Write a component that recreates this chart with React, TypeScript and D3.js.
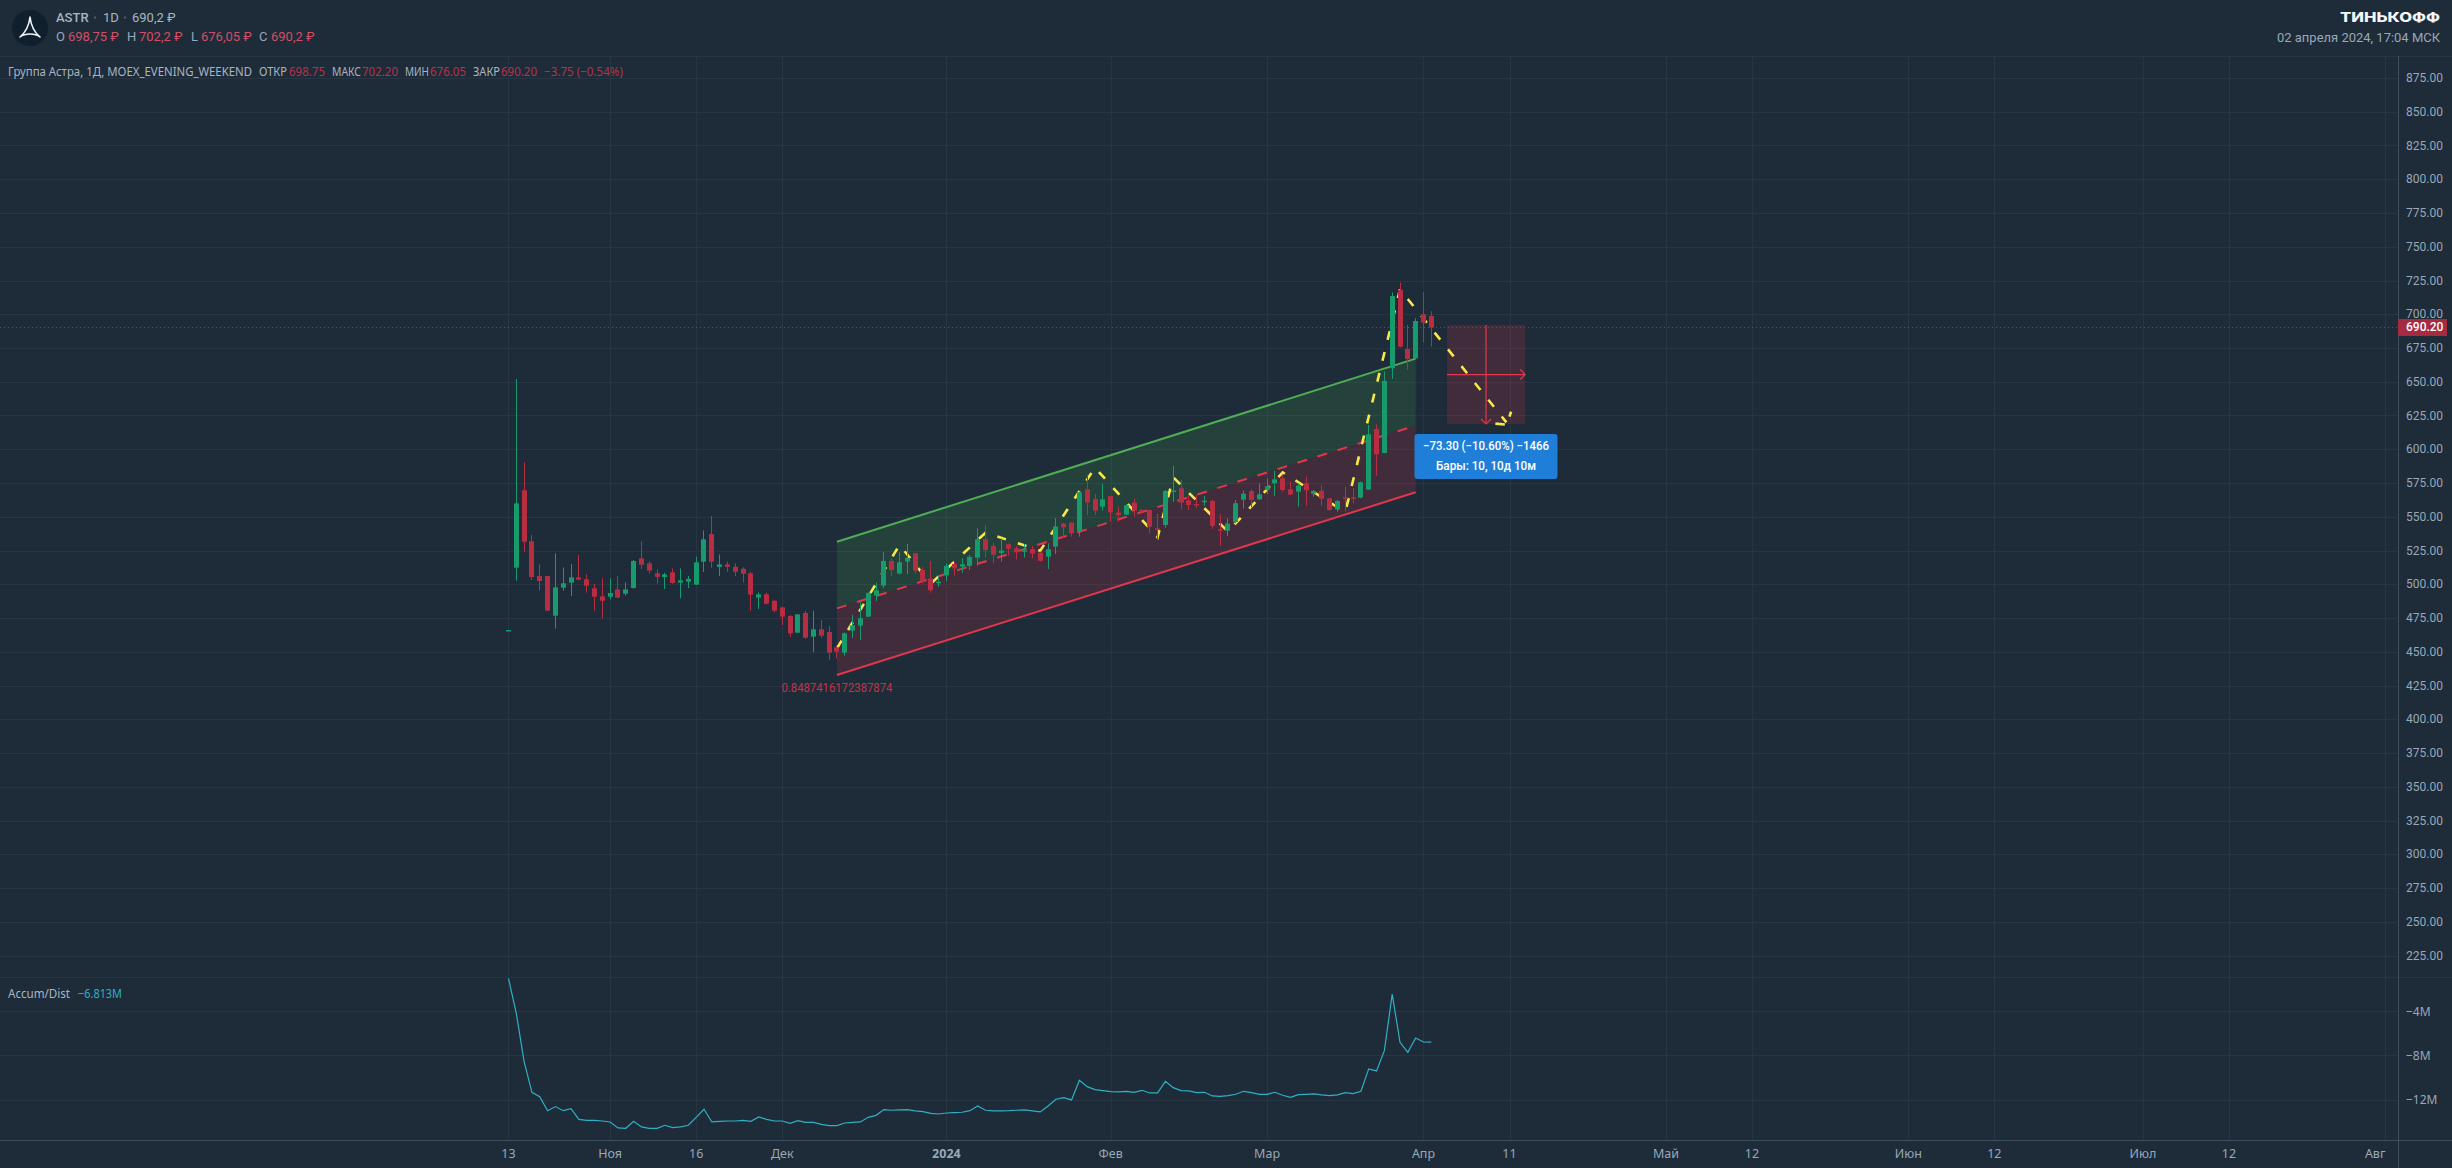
import React from "react";
import * as d3 from "d3";

const W = 2452, H = 1168;
const AXIS_X = 2398, TOP = 56, PANE = 977, BOTTOM = 1140;

const opens = [465.7,512.3,569.6,531.8,506.1,506.1,476.7,497.5,501.2,505.1,503.6,497,491,490.8,496.2,493,497.2,519.2,515.5,508.1,505.4,508.8,501.2,501.9,499.7,516.7,537.2,512.8,514.7,513,511.5,508.1,490.1,492.5,487.8,482.9,476.5,464.1,478.7,461.2,466.6,464.6,453.3,449.3,465.7,469.4,476,491.6,499,517.3,507.9,516.8,522.9,510.6,504.2,501.5,506.6,515,513.1,513.6,519.7,533.3,528.4,523.2,529.6,526.6,524.4,526.1,523.4,520.5,527.9,544.9,545.7,539,570.3,563.2,557.5,565.2,553.1,551.6,560.5,555,555,541.5,543.9,568.9,571.1,562.2,559.5,561.5,561.7,540.7,539.7,546.1,562.7,569.1,562.9,569.8,574.8,578.5,570.3,568.6,574.8,567.1,569.3,563.7,555.5,564.4,564.4,564.2,570.1,615,597.2,660,718,674.3,667.4,700,698.75];
const highs = [466.1,652,590.3,536.5,514.7,506.1,522.9,512.5,515,521.7,507.3,500.2,504.4,504.4,506.1,501.4,518,531.8,517,511,508.6,511.8,511.8,506.1,520.4,539.9,550.5,522.1,517,515.5,512.5,509.3,494,493.8,488.3,483.4,477.2,477.7,480.4,480.4,473.5,469.1,455,464.4,477.3,487.1,493.8,501.2,523.7,519.2,523.7,529.8,522.9,512.6,517.3,505.7,515.5,516.8,519.2,521.7,541.5,543.9,530.8,534,530.3,528.4,529.8,528.4,524.2,530.3,548.9,545.7,545.7,568.6,581,566.9,574.3,565.2,557.5,559,563.4,555.5,555.5,552.1,569.8,587.6,577.3,566.1,566.1,565.4,562.4,551.8,548.9,562.4,569.4,570.3,574.8,578.5,584.2,581,576,574.8,579.7,569.8,573.5,563.7,562.4,572.3,571.1,576,618,618.5,657.5,716.2,723.4,692.1,697,716.2,702.2];
const lows = [465.7,502.6,524.1,503.1,495.2,480.4,467.1,495.2,491.3,503.1,493.8,480.4,474.7,488.8,489.8,491.5,496.7,511.3,507.8,500.4,496.5,500.4,489.6,497.2,499.4,509.1,512.3,506.1,509.1,506.1,501.2,480.4,481.7,485.1,479.2,469.8,460.9,464.1,459.7,449.8,460.4,443.9,445.1,447.1,460.2,458.7,475.8,487.6,497,506.1,507.4,507.6,508.1,500.7,493.8,498.2,502.4,506.4,508.6,510.6,513.8,519.7,515.5,516.8,521.2,518.5,519.7,519.2,516.8,511.3,522.4,534.5,535.3,535.3,551.3,551.3,554.5,546.4,546.4,551.3,550.1,553.1,537.7,533.6,541.9,561.2,555.5,555,556.3,558,541,528.4,535.8,545.2,556,557,562.4,566.9,565.4,568.6,566.1,557.5,558,564.9,558,554.5,553.8,553.8,560,563.7,569.8,580.4,597,652.1,675.5,658.7,666.9,679.2,676.05];
const closes = [466.1,559.9,531.5,505.4,502.4,480.4,497.7,500.7,505.1,503.4,498.9,490.8,487.8,493.5,490.1,496.2,517.2,514.5,510.1,505.4,507.3,500.9,502.9,503.9,516.2,533.3,516.7,514.7,512.8,509.3,507.8,492.3,492.5,485.6,480.4,476,463.6,477.7,460.4,466.6,461.9,449.3,450.1,463.6,469.6,474.8,493.6,495.5,517.3,510.6,516.3,519.5,510.1,501.9,495.5,501.9,513.6,511.8,514.8,520.2,533.3,525.4,521.9,524.9,526.4,523.7,525.2,522.7,517.3,525.9,542.7,542.2,537.7,568.1,560.5,554.5,562.9,553.3,551.3,558.5,554.5,554.3,542.7,541,569.1,569.4,560.5,558.7,559,561.9,543.2,540.2,544.9,560,567.1,562.4,566.6,572.6,577.7,569.8,566.4,573.1,569.6,569.1,563.2,555,561.7,564.2,564.2,575.5,611.1,596.2,650.6,713.5,676,666.9,695,693.8,690.2];
const accDist = [-1.05,-4.21,-8.57,-11.34,-11.73,-13,-12.63,-13,-12.81,-13.78,-13.87,-13.87,-13.93,-14.02,-14.56,-14.59,-13.96,-14.47,-14.59,-14.59,-14.32,-14.53,-14.47,-14.32,-13.6,-12.87,-14.02,-13.96,-13.93,-13.93,-13.87,-13.96,-13.57,-13.78,-13.93,-13.93,-14.14,-13.9,-14.05,-14.05,-14.23,-14.35,-14.35,-14.11,-14.05,-14.02,-13.6,-13.42,-12.9,-12.96,-12.93,-12.9,-13.02,-13.08,-13.24,-13.3,-13.21,-13.17,-13.14,-13,-12.57,-12.96,-13.02,-13.02,-13,-12.96,-12.93,-13.02,-13.11,-12.57,-11.97,-11.82,-12.03,-10.26,-10.83,-11.1,-11.19,-11.28,-11.31,-11.25,-11.34,-11.16,-11.4,-11.4,-10.35,-10.92,-11.19,-11.22,-11.37,-11.34,-11.67,-11.7,-11.64,-11.52,-11.25,-11.37,-11.52,-11.52,-11.34,-11.61,-11.79,-11.55,-11.52,-11.49,-11.58,-11.64,-11.58,-11.37,-11.46,-11.25,-9.23,-9.41,-7.58,-2.47,-6.83,-7.73,-6.44,-6.8,-6.813];

const priceTicks = d3.range(225, 876, 25);
const adTicks = [-4, -8, -12];
const adTickLabels = ["−4M", "−8M", "−12M"];
const timeTickBars = [0, 13, 24, 35, 56, 77, 97, 117, 128, 148, 159, 179, 190, 209, 220, 240];
const timeTickLabels = ["13", "Ноя", "16", "Дек", "2024", "Фев", "Мар", "Апр", "11", "Май", "12", "Июн", "12", "Июл", "12", "Авг"];

const channelBars = [42, 116];
const channelUpper = [531.5, 667.1];
const channelMiddle = [482.15, 617.6];
const channelLower = [432.8, 568.1];

const zigzagBars = [42, 50, 54, 61, 68, 75, 83, 85, 92, 99, 107, 114, 127.6];
const zigzagPrices = [452.5, 529.1, 500.4, 538.2, 524.9, 586.4, 534.8, 579.2, 539, 582.9, 553.4, 718.5, 619.9];
const tailBars = [[126.2, 127.4], [128, 128.2]];
const tailPrices = [[619, 618.3], [624.2, 627.9]];

const rangeBars = [120, 130];
const rangePrices = [692, 618.7];
const lastPrice = 690.2;

const BG = "#1e2b39", GRID = "#283644", AXIS = "#3f4e5d", TXT = "#98a9b8", LEG = "#a8b6c2";
const GREEN = "#179b6d", RED = "#b72d42", CH_GREEN = "#4fae55", CH_RED = "#e2364c", YEL = "#f7e948", TEAL = "#2fb0c3";
const SANS = "'Noto Sans', sans-serif";
const ROB = "Roboto, sans-serif";

const x = d3.scaleLinear().domain([1, 118]).range([516.3, 1431.3]);
const y = d3.scaleLinear().domain([875, 225]).range([78, 955.5]);
const yAd = d3.scaleLinear().domain([-4, -12]).range([1011, 1099.6]);

const lineFrom = (bars: number[], prices: number[]) =>
  d3.line<number>().x((b) => x(b)).y((_, i) => y(prices[i]))(bars) as string;

const band = (upper: number[], lower: number[]) =>
  d3.area<number>().x((b) => x(b)).y0((_, i) => y(lower[i])).y1((_, i) => y(upper[i]))(channelBars) as string;

const T = ({ x: tx, y: ty, w, c = LEG, f = ROB, s = 12, b = 400, a = "start", children }: any) => (
  <text x={tx} y={ty} fill={c} fontFamily={f} fontSize={s} fontWeight={b} textAnchor={a} dominantBaseline="central"
    {...(w ? { textLength: w, lengthAdjust: "spacingAndGlyphs" } : {})}>{children}</text>
);

export default function App() {
  const adPath = d3.line<number>().x((_, i) => x(i)).y((v) => yAd(v))(accDist) as string;
  const rx0 = x(rangeBars[0]), rx1 = x(rangeBars[1]);
  const ry0 = y(rangePrices[0]), ry1 = y(rangePrices[1]);
  const rxm = (rx0 + rx1) / 2, rym = (ry0 + ry1) / 2;
  return (
    <svg width={W} height={H} viewBox={`0 0 ${W} ${H}`} style={{ position: "fixed", left: 0, top: 0, display: "block" }}>
      <rect width={W} height={H} fill={BG} />
      {/* grid */}
      {priceTicks.map((p) => (
        <line key={p} x1={0} x2={AXIS_X} y1={Math.round(y(p)) + 0.5} y2={Math.round(y(p)) + 0.5} stroke={GRID} />
      ))}
      {adTicks.map((v) => (
        <line key={v} x1={0} x2={AXIS_X} y1={Math.round(yAd(v)) + 0.5} y2={Math.round(yAd(v)) + 0.5} stroke={GRID} />
      ))}
      {timeTickBars.map((b) => (
        <line key={b} x1={Math.round(x(b)) + 0.5} x2={Math.round(x(b)) + 0.5} y1={TOP} y2={BOTTOM} stroke={GRID} />
      ))}
      <line x1={0} x2={W} y1={TOP + 0.5} y2={TOP + 0.5} stroke={GRID} />
      <line x1={0} x2={W} y1={PANE + 0.5} y2={PANE + 0.5} stroke={GRID} />
      <line x1={0} x2={W} y1={BOTTOM + 0.5} y2={BOTTOM + 0.5} stroke={AXIS} />
      <line x1={AXIS_X + 0.5} x2={AXIS_X + 0.5} y1={TOP} y2={H} stroke={AXIS} />

      {/* channel */}
      <path d={band(channelUpper, channelMiddle)} fill="rgba(76,175,80,0.17)" />
      <path d={band(channelMiddle, channelLower)} fill="rgba(242,54,69,0.17)" />
      <path d={lineFrom(channelBars, channelUpper)} fill="none" stroke={CH_GREEN} strokeWidth={2} />
      <path d={lineFrom(channelBars, channelMiddle)} fill="none" stroke={CH_RED} strokeWidth={2} strokeDasharray="10 11" />
      <path d={lineFrom(channelBars, channelLower)} fill="none" stroke={CH_RED} strokeWidth={2} />
      <T x={x(42)} y={688} w={111} c="#c23347" a="middle">0.8487416172387874</T>

      {/* last price */}
      <line x1={0} x2={AXIS_X} y1={y(lastPrice)} y2={y(lastPrice)} stroke="#a83248" strokeDasharray="1 3" />

      {/* projection box */}
      <rect x={rx0} y={ry0} width={rx1 - rx0} height={ry1 - ry0} fill="rgba(242,54,69,0.17)" />
      <line x1={rxm} x2={rxm} y1={ry0} y2={ry1} stroke={CH_RED} strokeWidth={1.2} />
      <line x1={rx0} x2={rx1} y1={rym} y2={rym} stroke={CH_RED} strokeWidth={1.2} />
      <path d={`M${rx1 - 5},${rym - 5}L${rx1},${rym}L${rx1 - 5},${rym + 5}`} fill="none" stroke={CH_RED} strokeWidth={1.2} />
      <path d={`M${rxm - 5},${ry1 - 5}L${rxm},${ry1}L${rxm + 5},${ry1 - 5}`} fill="none" stroke={CH_RED} strokeWidth={1.2} />

      {/* zigzag */}
      <path d={lineFrom(zigzagBars, zigzagPrices)} fill="none" stroke={YEL} strokeWidth={2.6} strokeDasharray="9 12.5" />
      {tailBars.map((bars, i) => (
        <path key={i} d={lineFrom(bars, tailPrices[i])} fill="none" stroke={YEL} strokeWidth={2.6} />
      ))}

      {/* candles */}
      {opens.map((o, i) => {
        const c = closes[i];
        const col = c >= o ? GREEN : RED;
        const cx = Math.round(x(i) - 0.5) + 0.5;
        const top = y(Math.max(o, c));
        const h = Math.max(1.5, y(Math.min(o, c)) - top);
        return (
          <g key={i}>
            <line x1={cx} x2={cx} y1={y(highs[i])} y2={y(lows[i])} stroke={col} />
            <rect x={cx - 2.5} y={top} width={5} height={h} fill={col} />
          </g>
        );
      })}

      {/* measure tooltip */}
      <rect x={1414.5} y={434} width={143} height={45} rx={3} fill="#1f7fd8" />
      <T x={1486} y={446} w={126} c="#fff" b={500} a="middle">−73.30 (−10.60%) −1466</T>
      <T x={1486} y={466} w={100} c="#fff" b={500} a="middle">Бары: 10, 10д 10м</T>

      {/* accumulation / distribution */}
      <path d={adPath} fill="none" stroke={TEAL} strokeWidth={1.2} />
      <T x={8} y={993} w={62} f={SANS}>Accum/Dist</T>
      <T x={78} y={993} w={44} f={SANS} c={TEAL}>−6.813M</T>

      {/* price axis */}
      {priceTicks.map((p) => (
        <T key={p} x={2406} y={y(p)} c={TXT}>{d3.format(".2f")(p)}</T>
      ))}
      <rect x={AXIS_X} y={y(lastPrice) - 8.5} width={49} height={17} fill="#a62b40" />
      <T x={2406} y={y(lastPrice)} c="#fff" b={500}>690.20</T>
      {adTicks.map((v, i) => (
        <T key={v} x={2406} y={yAd(v)} c={TXT} f={SANS}>{adTickLabels[i]}</T>
      ))}

      {/* time axis */}
      {timeTickBars.map((b, i) => (
        <T key={b} x={x(b)} y={1153} c={TXT} f={SANS} a={i === 15 ? "end" : "middle"} b={timeTickLabels[i] === "2024" ? 700 : 400} s={12.5}>
          {timeTickLabels[i]}
        </T>
      ))}

      {/* header */}
      <circle cx={30} cy={28} r={18} fill="#0f1f2e" />
      <path d="M30,17C29,26 26,32 20,37C25,33 35,33 40,37C34,32 31,26 30,17Z" fill="none" stroke="#f1f4f6" strokeWidth={1.6} strokeLinejoin="round" />
      <T x={56} y={17} b={500} s={13} c="#a8b6c2">ASTR</T>
      <T x={103} y={17} s={13} c="#a8b6c2">1D</T>
      <T x={132} y={17} s={13} c="#a8b6c2">690,2 ₽</T>
      <circle cx={95} cy={17.5} r={1.2} fill="#4a5a69" />
      <circle cx={125} cy={17.5} r={1.2} fill="#4a5a69" />
      <T x={56} y={36} s={13} c={TXT}>O</T>
      <T x={68} y={36} s={13} c="#cf5066">698,75 ₽</T>
      <T x={127} y={36} s={13} c={TXT}>H</T>
      <T x={139} y={36} s={13} c="#cf5066">702,2 ₽</T>
      <T x={191} y={36} s={13} c={TXT}>L</T>
      <T x={201} y={36} s={13} c="#cf5066">676,05 ₽</T>
      <T x={259} y={36} s={13} c={TXT}>C</T>
      <T x={271} y={36} s={13} c="#cf5066">690,2 ₽</T>

      <T x={8} y={71} w={244} f={SANS}>Группа Астра, 1Д, MOEX_EVENING_WEEKEND</T>
      <T x={259} y={71} w={28} f={SANS}>ОТКР</T>
      <T x={289} y={71} w={36} f={SANS} c="#b93246">698.75</T>
      <T x={332} y={71} w={29} f={SANS}>МАКС</T>
      <T x={362} y={71} w={36} f={SANS} c="#b93246">702.20</T>
      <T x={405} y={71} w={24} f={SANS}>МИН</T>
      <T x={430} y={71} w={36} f={SANS} c="#b93246">676.05</T>
      <T x={473} y={71} w={27} f={SANS}>ЗАКР</T>
      <T x={501} y={71} w={36} f={SANS} c="#b93246">690.20</T>
      <T x={544} y={71} w={79} f={SANS} c="#a8384b">−3.75 (−0.54%)</T>

      <T x={2440} y={17} w={100} a="end" f="Inter, sans-serif" b={800} s={13} c="#f4f6f8">ТИНЬКОФФ</T>
      <T x={2440} y={37} w={163} a="end" s={13} c={TXT}>02 апреля 2024, 17:04 МСК</T>
    </svg>
  );
}
